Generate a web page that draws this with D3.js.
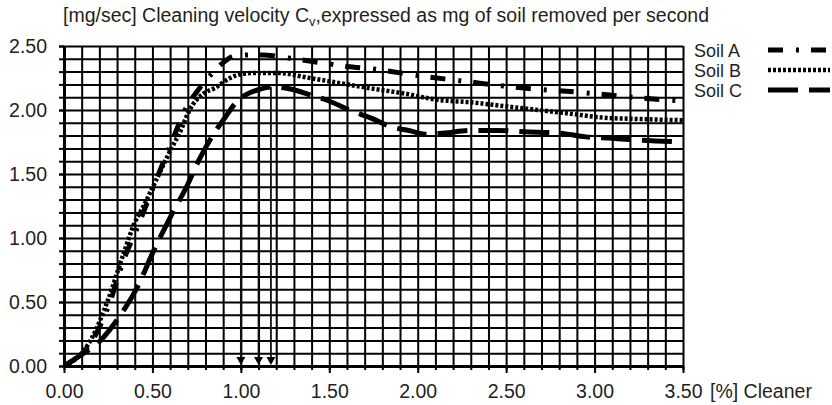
<!DOCTYPE html>
<html>
<head>
<meta charset="utf-8">
<script src="https://d3js.org/d3.v7.min.js"></script>
<style>
  body { margin: 0; background: #fff; }
  text { font-family: "Liberation Sans", Arial, sans-serif; fill: #231f20; }
</style>
</head>
<body>
<svg width="832" height="405"></svg>
<script>
// Data: cleaner concentration [%] vs cleaning velocity [mg/sec]
var soilAx = [0, 0.1, 0.16, 0.26, 0.33, 0.42, 0.52, 0.6, 0.7, 0.75, 0.84, 0.9, 0.96, 1.05, 1.13, 1.2, 1.3, 1.45, 1.6, 1.75, 1.9, 2.05, 2.2, 2.35, 2.5, 2.7, 2.9, 3.1, 3.3, 3.5];
var soilAy = [0, 0.1, 0.2, 0.5, 0.8, 1.1, 1.45, 1.72, 2.04, 2.14, 2.29, 2.37, 2.42, 2.43, 2.43, 2.42, 2.4, 2.37, 2.34, 2.32, 2.29, 2.26, 2.235, 2.21, 2.185, 2.16, 2.14, 2.115, 2.09, 2.07];

var soilBx = [0, 0.1, 0.15, 0.25, 0.33, 0.4, 0.45, 0.52, 0.6, 0.66, 0.71, 0.79, 0.85, 0.94, 1.0, 1.1, 1.2, 1.39, 1.56, 1.73, 1.92, 2.11, 2.3, 2.49, 2.68, 2.87, 3.05, 3.24, 3.5];
var soilBy = [0, 0.1, 0.2, 0.52, 0.85, 1.12, 1.25, 1.45, 1.68, 1.84, 2.0, 2.13, 2.17, 2.25, 2.28, 2.29, 2.29, 2.25, 2.21, 2.17, 2.13, 2.08, 2.06, 2.03, 2.0, 1.97, 1.94, 1.93, 1.92];

var soilCx = [0, 0.1, 0.2, 0.3, 0.34, 0.42, 0.5, 0.6, 0.7, 0.76, 0.84, 0.9, 0.98, 1.03, 1.1, 1.19, 1.26, 1.41, 1.48, 1.63, 1.73, 1.86, 1.95, 2.05, 2.15, 2.3, 2.45, 2.6, 2.8, 2.95, 3.1, 3.25, 3.5];
var soilCy = [0, 0.09, 0.19, 0.36, 0.44, 0.63, 0.88, 1.16, 1.42, 1.6, 1.8, 1.92, 2.07, 2.12, 2.16, 2.18, 2.17, 2.11, 2.08, 1.99, 1.94, 1.865, 1.84, 1.81, 1.82, 1.84, 1.84, 1.83, 1.82, 1.79, 1.78, 1.765, 1.75];

// optimum markers (arrows down to the x axis)
var arrowX = [1.0, 1.1, 1.17];
var arrowTop = [2.1, 2.16, 2.18];

var xLabels = [0, 0.5, 1.0, 1.5, 2.0, 2.5, 3.0, 3.5];
var yLabels = [0, 0.5, 1.0, 1.5, 2.0, 2.5];
var soilNames = ["Soil A", "Soil B", "Soil C"];

var svg = d3.select("svg");
var margin = {left: 64, top: 46, right: 149, bottom: 39};
var width = 832 - margin.left - margin.right,
    height = 405 - margin.top - margin.bottom;
var fs = "19.5px";

var x = d3.scaleLinear().domain([0, 3.5]).range([0, width]);
var y = d3.scaleLinear().domain([0, 2.5]).range([height, 0]);

var minor = d3.range(0, 36).map(function(i) { return i / 10; });
var minorY = d3.range(0, 26).map(function(i) { return i / 10; });

var g = svg.append("g").attr("transform", "translate(" + margin.left + "," + margin.top + ")");

// grid
g.append("g").attr("class", "grid")
  .attr("transform", "translate(0," + height + ")")
  .call(d3.axisBottom(x).tickValues(minor).tickSize(-height).tickFormat(""))
  .call(function(a) { a.select(".domain").remove(); });
g.append("g").attr("class", "grid")
  .call(d3.axisLeft(y).tickValues(minorY).tickSize(-width).tickFormat(""))
  .call(function(a) { a.select(".domain").remove(); });
g.selectAll(".grid line").attr("stroke", "#000").attr("stroke-width", 2);

// minor ticks outside
g.append("g").attr("transform", "translate(0," + height + ")")
  .call(d3.axisBottom(x).tickValues(minor).tickSizeInner(4).tickSizeOuter(0).tickFormat(""))
  .call(function(a) { a.select(".domain").remove(); a.selectAll("line").attr("stroke-width", 2); });
g.append("g")
  .call(d3.axisLeft(y).tickValues(minorY).tickSizeInner(5).tickSizeOuter(0).tickFormat(""))
  .call(function(a) { a.select(".domain").remove(); a.selectAll("line").attr("stroke-width", 2); });

// labelled axes
var xAxis = g.append("g").attr("transform", "translate(0," + height + ")")
  .call(d3.axisBottom(x).tickValues(xLabels).tickSizeInner(7).tickSizeOuter(0).tickPadding(11).tickFormat(d3.format(".2f")));
xAxis.select(".domain").attr("stroke-width", 3);
xAxis.selectAll("line").attr("stroke-width", 2);
xAxis.selectAll("text").attr("font-size", fs).attr("fill", "#231f20");

var yAxis = g.append("g")
  .call(d3.axisLeft(y).tickValues(yLabels).tickSizeInner(5).tickSizeOuter(0).tickPadding(12).tickFormat(d3.format(".2f")));
yAxis.select(".domain").attr("stroke-width", 3);
yAxis.selectAll("line").attr("stroke-width", 2);
yAxis.selectAll("text").attr("font-size", fs).attr("fill", "#231f20");

g.append("text")
  .attr("x", width + 27).attr("y", height + 32)
  .attr("font-size", fs)
  .text("[%] Cleaner");

// title
var title = svg.append("text").attr("x", 63).attr("y", 22).attr("font-size", fs);
title.append("tspan").text("[mg/sec] Cleaning velocity C");
title.append("tspan").attr("font-size", "13px").attr("dy", 4).text("v");
title.append("tspan").attr("dy", -4).text(",expressed as mg of soil removed per second");

// curves
var dashes = ["15,13,3,12", "3,2", "30,11"];
var widths = [5, 4.5, 5];
var series = [
  d3.zip(soilAx, soilAy),
  d3.zip(soilBx, soilBy),
  d3.zip(soilCx, soilCy)
];
var line = d3.line()
  .x(function(d) { return x(d[0]); })
  .y(function(d) { return y(d[1]); })
  .curve(d3.curveMonotoneX);

g.selectAll(".soil").data(series).enter().append("path")
  .attr("class", "soil")
  .attr("d", line)
  .attr("fill", "none")
  .attr("stroke", "#000")
  .attr("stroke-width", function(d, i) { return widths[i]; })
  .attr("stroke-dasharray", function(d, i) { return dashes[i]; });

// arrows
arrowX.forEach(function(v, i) {
  g.append("line")
    .attr("x1", x(v)).attr("x2", x(v))
    .attr("y1", y(arrowTop[i])).attr("y2", y(0) - 6)
    .attr("stroke", "#111").attr("stroke-width", 1.8);
  g.append("path")
    .attr("d", "M" + (x(v) - 4.5) + "," + (y(0) - 9) + "L" + (x(v) + 4.5) + "," + (y(0) - 9) + "L" + x(v) + "," + (y(0) - 1) + "Z")
    .attr("fill", "#000");
});

// legend
var leg = svg.append("g").attr("transform", "translate(694,50)");
soilNames.forEach(function(name, i) {
  var row = leg.append("g").attr("transform", "translate(0," + (i * 20) + ")");
  row.append("text").attr("y", 6.5).attr("font-size", "18px").text(name);
  row.append("line")
    .attr("x1", 74).attr("x2", 136)
    .attr("stroke", "#000")
    .attr("stroke-width", widths[i])
    .attr("stroke-dasharray", dashes[i]);
});
</script>
</body>
</html>
